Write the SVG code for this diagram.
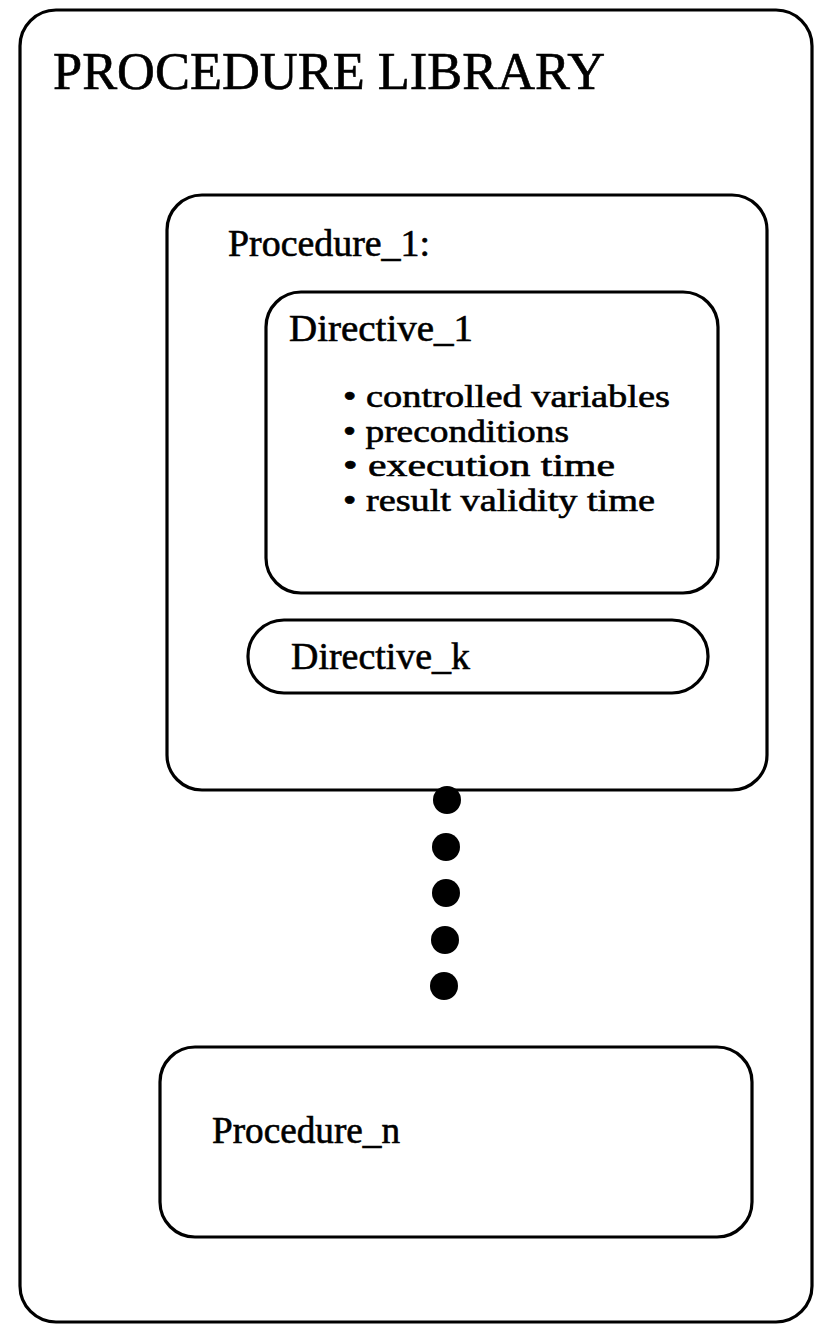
<svg xmlns="http://www.w3.org/2000/svg" width="815" height="1332" viewBox="0 0 815 1332">
  <style>
    .box { fill: none; stroke: #000; stroke-width: 3.2; }
    .lbl { font-family: "Liberation Serif", "Times New Roman", serif; fill: #000; stroke: #000; stroke-width: 0.6; }
    .title { font-size: 52px; }
    .name { font-size: 37px; }
    .item { font-size: 31px; }
    .dot { fill: #000; }
  </style>
  <rect width="815" height="1332" fill="#fff"/>

  <!-- library container -->
  <g id="library">
    <rect class="box" x="20" y="10" width="792" height="1312" rx="36" ry="36"/>
    <text class="lbl title" x="53" y="89" textLength="552" lengthAdjust="spacingAndGlyphs">PROCEDURE LIBRARY</text>
  </g>

  <!-- first procedure with its directives -->
  <g id="procedure-1">
    <rect class="box" x="167" y="195" width="600" height="595" rx="35" ry="35"/>
    <text class="lbl name" x="228" y="256" textLength="202" lengthAdjust="spacingAndGlyphs">Procedure_1:</text>
  </g>

  <g id="directive-1">
    <rect class="box" x="266" y="292" width="452" height="301" rx="35" ry="35"/>
    <text class="lbl name" x="289" y="341" textLength="184" lengthAdjust="spacingAndGlyphs">Directive_1</text>
    <text class="lbl item" x="343" y="407" textLength="327" lengthAdjust="spacingAndGlyphs">• controlled variables</text>
    <text class="lbl item" x="343" y="441.5" textLength="226" lengthAdjust="spacingAndGlyphs">• preconditions</text>
    <text class="lbl item" x="343" y="476" textLength="272" lengthAdjust="spacingAndGlyphs">• execution time</text>
    <text class="lbl item" x="343" y="510.5" textLength="312" lengthAdjust="spacingAndGlyphs">• result validity time</text>
  </g>

  <g id="directive-k">
    <rect class="box" x="248" y="620" width="460" height="73" rx="36" ry="36"/>
    <text class="lbl name" x="291" y="669" textLength="179" lengthAdjust="spacingAndGlyphs">Directive_k</text>
  </g>

  <!-- ellipsis between procedures -->
  <g id="ellipsis">
    <circle class="dot" cx="447" cy="800" r="14"/>
    <circle class="dot" cx="446" cy="847" r="14"/>
    <circle class="dot" cx="446" cy="893" r="14"/>
    <circle class="dot" cx="445" cy="940" r="14"/>
    <circle class="dot" cx="444" cy="986" r="14"/>
  </g>

  <g id="procedure-n">
    <rect class="box" x="160" y="1047" width="592" height="190" rx="35" ry="35"/>
    <text class="lbl name" x="212" y="1143" textLength="188" lengthAdjust="spacingAndGlyphs">Procedure_n</text>
  </g>

  <g id="connectors"/>
</svg>
